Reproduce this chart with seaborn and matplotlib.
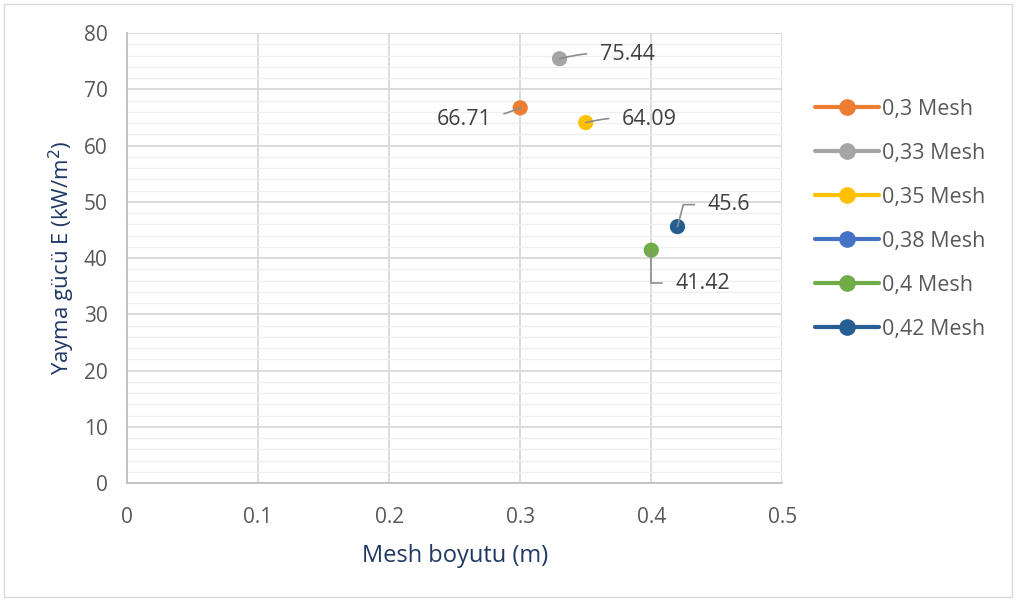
import pandas as pd
import seaborn as sns
import matplotlib.pyplot as plt
from matplotlib.lines import Line2D
from matplotlib.patches import Rectangle

# data
series = ['0,3 Mesh', '0,33 Mesh', '0,35 Mesh', '0,38 Mesh', '0,4 Mesh', '0,42 Mesh']
colors = ['#ED7D31', '#A5A5A5', '#FFC000', '#4472C4', '#70AD47', '#255E91']
mesh_x = [0.30, 0.33, 0.35, 0.40, 0.42]
power_y = [66.71, 75.44, 64.09, 41.42, 45.6]
point_series = ['0,3 Mesh', '0,33 Mesh', '0,35 Mesh', '0,4 Mesh', '0,42 Mesh']
label_text = ['66.71', '75.44', '64.09', '41.42', '45.6']

df = pd.DataFrame({'x': mesh_x, 'y': power_y, 'series': point_series})
palette = dict(zip(series, colors))

sns.set_theme(style='white')
plt.rcParams['font.family'] = ['Open Sans', 'DejaVu Sans']

fig = plt.figure(figsize=(10.16, 6.01), dpi=100)
ax = fig.add_axes([0.125, 0.196, 0.645, 0.749])

sns.scatterplot(data=df, x='x', y='y', hue='series', hue_order=series,
                palette=palette, s=120, edgecolor='none', legend=False,
                ax=ax, zorder=3)

# labels with leader lines
offsets = {'66.71': (-29, -12, 'right'), '75.44': (40, 4, 'left'),
           '64.09': (36, 3, 'left'), '41.42': (24, -33, 'left'),
           '45.6': (30, 22, 'left')}
for xv, yv, t in zip(mesh_x, power_y, label_text):
    dx, dy, ha = offsets[t]
    if t == '41.42':
        cs = 'angle,angleA=0,angleB=90,rad=0'
    elif t == '45.6':
        cs = 'angle,angleA=0,angleB=75,rad=0'
    else:
        cs = 'arc3,rad=0.1'
    ax.annotate(t, (xv, yv), xytext=(dx, dy), textcoords='offset pixels',
                ha=ha, va='center', fontsize=15.5, color='#404040',
                arrowprops=dict(arrowstyle='-', color='#8C8C8C', lw=1.2,
                                shrinkA=7, shrinkB=0, connectionstyle=cs),
                zorder=4)

ax.set_xlim(0, 0.5)
ax.set_ylim(0, 80)
ax.set_xticks([0, 0.1, 0.2, 0.3, 0.4, 0.5])
ax.set_xticklabels(['0', '0.1', '0.2', '0.3', '0.4', '0.5'])
ax.set_yticks(range(0, 81, 10))
ax.set_yticks(range(0, 81, 2), minor=True)
ax.grid(True, which='major', color='#D9D9D9', lw=1.3)
ax.grid(True, which='minor', axis='y', color='#EFEFEF', lw=1.0)
ax.set_axisbelow(True)
for s in ['top', 'right']:
    ax.spines[s].set_visible(False)
for s in ['left', 'bottom']:
    ax.spines[s].set_color('#BFBFBF')
ax.tick_params(axis='both', which='both', length=0, labelsize=15,
               labelcolor='#595959')
ax.tick_params(axis='x', pad=17)
ax.tick_params(axis='y', pad=14)

ax.set_xlabel('Mesh boyutu (m)', fontsize=17, color='#1F3864', labelpad=12)
ax.set_ylabel('Yayma gücü E (kW/m$^2$)', fontsize=16, color='#1F3864',
              labelpad=5)

handles = [Line2D([0], [0], color=c, lw=3, marker='o', markersize=11,
                  markeredgecolor=c) for c in colors]
fig.legend(handles, series, loc='upper left', bbox_to_anchor=(0.783, 0.868),
           frameon=False, fontsize=15.5, labelcolor='#595959',
           handlelength=3.0, handletextpad=0.1, labelspacing=1.07)

fig.patches.append(Rectangle((0.004, 0.006), 0.992, 0.988, transform=fig.transFigure,
                             fill=False, edgecolor='#D9D9D9', lw=1))

plt.savefig('out.png', dpi=100)
